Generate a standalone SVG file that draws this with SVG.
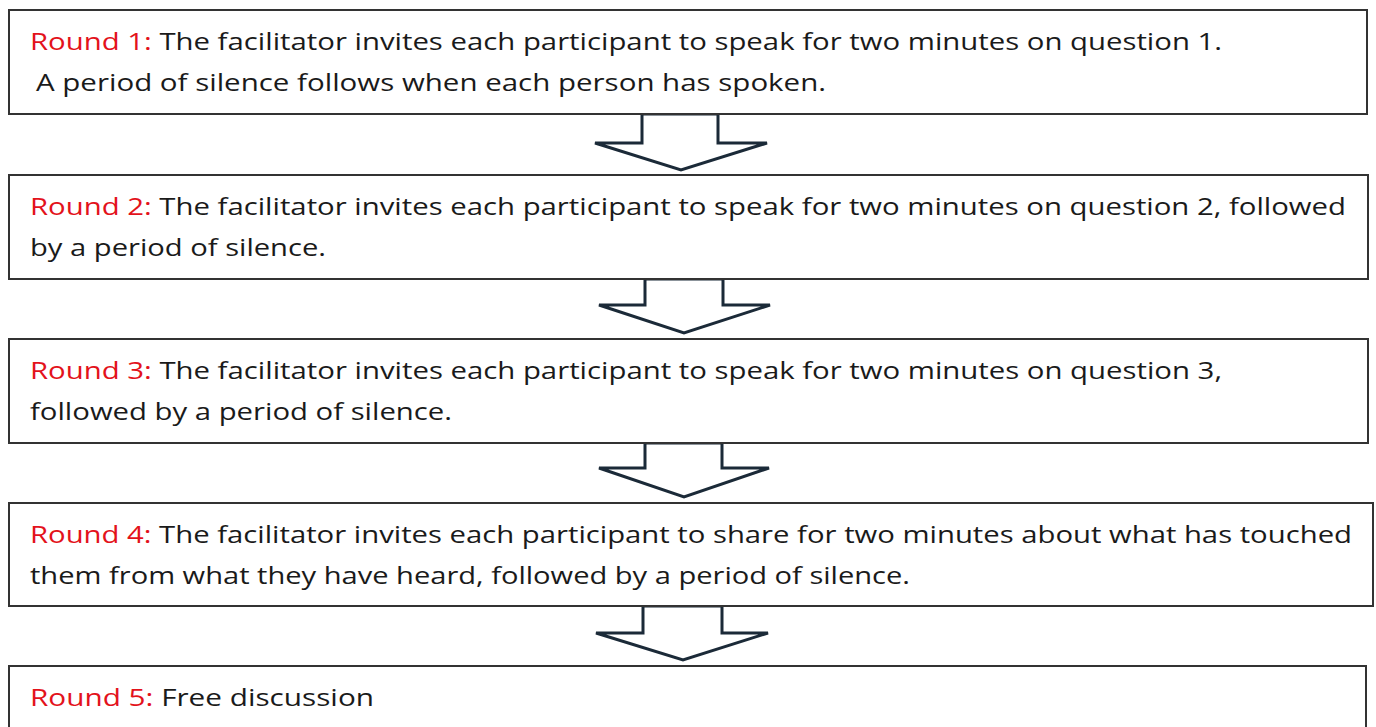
<svg xmlns="http://www.w3.org/2000/svg" width="1376" height="727" viewBox="0 0 1376 727">
<style>
.box{fill:#fff;stroke:#333;stroke-width:2}
.arr{fill:#fff;stroke:#1b2a38;stroke-width:3;stroke-linejoin:miter}
text{font-family:"Open Sans","Liberation Sans",sans-serif;font-size:24px;fill:#1a1a1a}
.r{fill:#e3121b}
</style>
<rect width="1376" height="727" fill="#fff"/>
<g id="connectors">
<path class="arr" d="M642 114 L718 114 L718 143 L767 143 L681 170 L595 143 L642 143 Z"/>
<path class="arr" d="M645 279 L723 279 L723 305 L770 305 L684 333 L599 305 L645 305 Z"/>
<path class="arr" d="M645 443 L722 443 L722 468 L769 468 L684 497 L599 468 L645 468 Z"/>
<path class="arr" d="M643 606 L722 606 L722 633 L768 633 L683 660 L596 633 L643 633 Z"/>
</g>
<g id="round1">
<rect class="box" x="9" y="10" width="1358" height="104"/>
<text x="30" y="50" textLength="1192" lengthAdjust="spacingAndGlyphs"><tspan class="r">Round 1:</tspan> The facilitator invites each participant to speak for two minutes on question 1.</text>
<text x="36" y="91" textLength="790" lengthAdjust="spacingAndGlyphs">A period of silence follows when each person has spoken.</text>
</g>
<g id="round2">
<rect class="box" x="9" y="175" width="1359" height="104"/>
<text x="30" y="215" textLength="1316" lengthAdjust="spacingAndGlyphs"><tspan class="r">Round 2:</tspan> The facilitator invites each participant to speak for two minutes on question 2, followed</text>
<text x="30" y="256" textLength="296" lengthAdjust="spacingAndGlyphs">by a period of silence.</text>
</g>
<g id="round3">
<rect class="box" x="9" y="339" width="1359" height="104"/>
<text x="30" y="379" textLength="1192" lengthAdjust="spacingAndGlyphs"><tspan class="r">Round 3:</tspan> The facilitator invites each participant to speak for two minutes on question 3,</text>
<text x="30" y="420" textLength="422" lengthAdjust="spacingAndGlyphs">followed by a period of silence.</text>
</g>
<g id="round4">
<rect class="box" x="9" y="503" width="1364" height="103"/>
<text x="30" y="543" textLength="1322" lengthAdjust="spacingAndGlyphs"><tspan class="r">Round 4:</tspan> The facilitator invites each participant to share for two minutes about what has touched</text>
<text x="30" y="584" textLength="880" lengthAdjust="spacingAndGlyphs">them from what they have heard, followed by a period of silence.</text>
</g>
<g id="round5">
<rect class="box" x="9" y="666" width="1357" height="80"/>
<text x="30" y="706" textLength="344" lengthAdjust="spacingAndGlyphs"><tspan class="r">Round 5:</tspan> Free discussion</text>
</g>
</svg>
